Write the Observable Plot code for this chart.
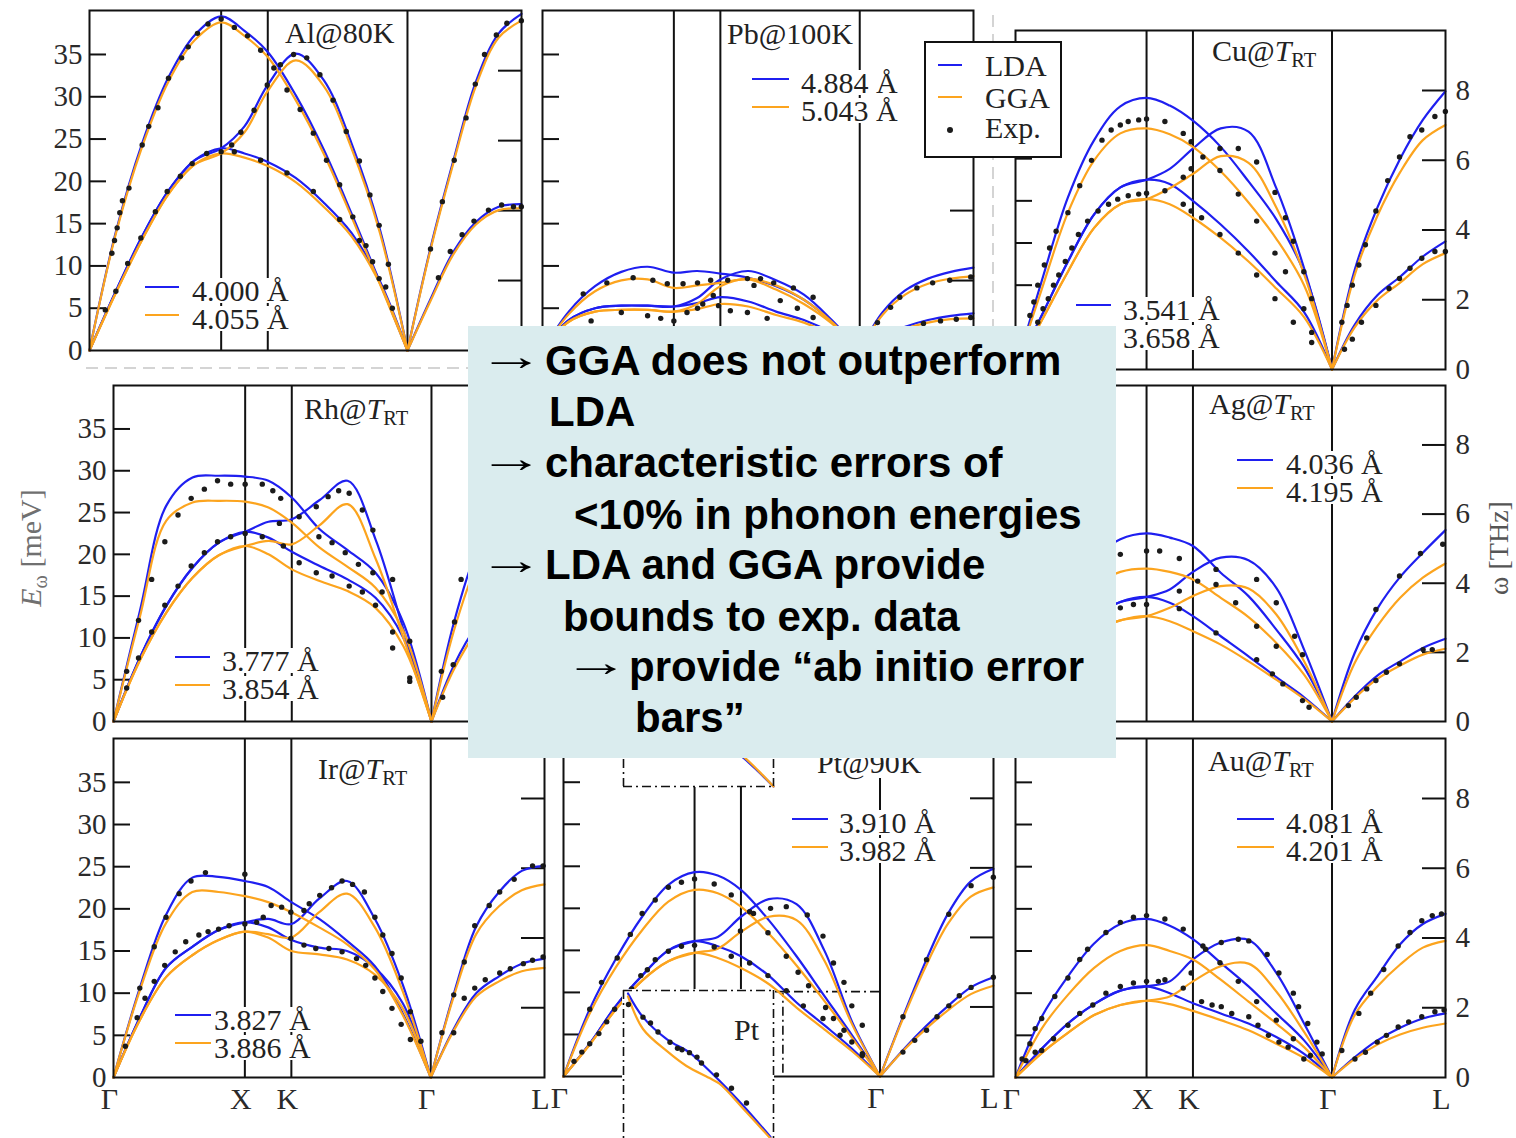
<!DOCTYPE html>
<html><head><meta charset="utf-8">
<script src="https://cdn.jsdelivr.net/npm/d3@7"></script>
<script src="https://cdn.jsdelivr.net/npm/@observablehq/plot@0.6"></script>
<style>
html,body{margin:0;padding:0;background:#fff;overflow:hidden;}
#stage{position:relative;width:1516px;height:1138px;overflow:hidden;background:#fff;}
#stage > div{position:absolute;}
</style></head><body><div id="stage"></div>
<script>
// ---------- shared axes data ----------
const qPath = [0, 0.2, 0.4, 0.6, 0.8, 1, 1.177, 1.354, 1.566, 1.778, 1.99, 2.202, 2.415];
const qL = [2.415, 2.588, 2.761, 2.935, 3.108, 3.281];
const symQ = [0, 1, 1.354, 2.415, 3.281];
const symLabels = ["Γ", "X", "K", "Γ", "L"];
const meVTicks = [0, 5, 10, 15, 20, 25, 30, 35];
const thzTicks = [0, 2, 4, 6, 8];
const MEV_PER_THZ = 4.1357;

// ---------- Al ----------
const alLDA = [
  [0, 14.0, 24.5, 32.3, 37.3, 39.5, 37.8, 35.3, 30.2, 23.8, 16.2, 8.2, 0],
  [0, 7.0, 13.5, 18.9, 22.5, 23.9, 26.5, 31.4, 35.1, 32.0, 24.5, 14.5, 0],
  [0, 7.0, 13.5, 18.9, 22.5, 23.9, 23.3, 22.3, 20.4, 17.5, 13.9, 8.3, 0],
  [0, 12.0, 22.3, 31.8, 37.5, 39.8],
  [0, 6.0, 11.6, 15.2, 17.0, 17.3]];
const alGGA = [
  [0, 13.8, 24.1, 31.8, 36.7, 38.8, 37.2, 34.7, 29.6, 23.3, 15.8, 8.0, 0],
  [0, 6.8, 13.1, 18.5, 22.0, 23.3, 25.8, 30.7, 34.3, 31.3, 23.9, 14.1, 0],
  [0, 6.8, 13.1, 18.5, 22.0, 23.3, 22.8, 21.8, 19.9, 17.0, 13.5, 8.0, 0],
  [0, 11.8, 22.0, 31.3, 37.0, 39.0],
  [0, 5.8, 11.3, 14.9, 16.6, 16.8]];
const alExp = [[.17,11.5],[.19,13],[.21,14.5],[.23,16.3],[.25,17.7],[.3,19.2],[.4,24.3],[.45,26.5],[.52,28.7],[.6,32.2],[.7,34.6],[.75,35.9],[.82,37.5],[.9,38.6],[1,39.2],
 [.12,4.8],[.2,7],[.29,10.3],[.39,13.3],[.5,16.4],[.59,18.8],[.69,20.6],[.78,22.1],[.89,23.3],[1,23.5],
 [1.08,24.3],[1.15,25.8],[1.25,28.4],[1.35,31.4],[1.45,33.8],[1.55,35],[1.65,34.6],[1.75,32.6],[1.85,29.6],[1.95,25.9],[2.05,22.4],[2.13,18.4],[2.2,14.8],[2.27,10.2],
 [1.1,38.2],[1.2,37.2],[1.3,35.5],[1.4,33.4],[1.5,30.8],[1.6,28.5],[1.7,25.7],[1.8,22.5],[1.9,19.6],[2,15.8],[2.1,12.4],[2.2,8.5],[2.3,5],
 [1.1,23.5],[1.3,22.5],[1.5,21],[1.7,18.8],[1.9,15.5],[2.05,13],[2.15,10.5],[2.25,7.5],
 [2.59,12],[2.68,17.6],[2.77,22.5],[2.86,27.5],[2.93,31.5],[3,35],[3.09,37.3],[3.17,38.7],[3.28,39],
 [2.65,8.6],[2.74,11.7],[2.83,13.7],[2.92,15.3],[3.03,16.6],[3.13,17.2],[3.22,17],[3.28,17]];

// ---------- Pb ----------
const pbLDA = [
  [0, 4.6, 7.6, 9.3, 9.9, 9.2, 9.4, 9.1, 8.6, 7.6, 6.0, 3.4, 0],
  [0, 3.6, 5.0, 5.3, 5.3, 5.2, 6.2, 8.4, 9.4, 8.3, 6.6, 3.6, 0],
  [0, 3.6, 5.0, 5.3, 5.3, 5.2, 5.6, 6.3, 5.8, 4.6, 3.6, 2.1, 0],
  [0, 4.5, 7.1, 8.5, 9.3, 9.8],
  [0, 1.6, 2.8, 3.6, 4.1, 4.4]];
const pbGGA = [
  [0, 4.3, 7.0, 8.3, 8.4, 7.4, 7.7, 8.0, 8.4, 7.2, 5.5, 3.2, 0],
  [0, 3.4, 4.6, 4.8, 4.8, 4.6, 5.5, 7.6, 8.5, 7.7, 6.0, 3.4, 0],
  [0, 3.4, 4.6, 4.8, 4.8, 4.6, 4.9, 5.5, 5.2, 4.2, 3.3, 1.9, 0],
  [0, 4.2, 6.6, 7.9, 8.5, 8.8],
  [0, 1.5, 2.6, 3.3, 3.7, 3.8]];
const pbExp = [[.31,6.7],[.49,8],[.69,8.6],[.84,8.3],[.95,7.9],[1.07,7.9],[1.18,8],[1.28,8.3],[1.41,8.3],[1.56,8.5],[1.66,8.5],[1.76,8],[1.91,7.4],[2.06,6.3],
 [1.61,7.7],[1.81,5.9],[1.94,5],[2.06,3.9],
 [.37,3.5],[.6,4.5],[.8,4.1],[.9,3.8],[1,3.5],[1.1,4.5],[1.18,5],[1.22,5.5],[1.3,6.5],[1.34,5.3],[1.43,4.7],[1.56,4.5],[1.71,3.8],
 [2.55,3.3],[2.65,5.1],[2.72,6.3],[2.85,7.4],[2.97,8],[3.1,8.3],[3.26,8.7],
 [2.9,3.2],[3.03,3.5],[3.15,3.7],[3.26,3.9]];

// ---------- Cu ----------
const cuLDA = [
  [0, 10.5, 20.4, 27.2, 31.2, 32.2, 31.3, 29.5, 26.4, 22.3, 17.8, 11.5, 0],
  [0, 6.4, 12.8, 18.4, 21.6, 22.5, 23.8, 26.2, 28.6, 28.2, 21.5, 12.0, 0],
  [0, 6.4, 12.8, 18.4, 21.6, 22.5, 22.0, 20.0, 17.2, 14.0, 10.4, 6.8, 0],
  [0, 11.8, 19.2, 25.0, 29.6, 33.0],
  [0, 5.3, 8.8, 11.0, 13.4, 15.2]];
const cuGGA = [
  [0, 9.5, 18.6, 24.8, 28.0, 28.6, 27.9, 26.4, 23.5, 19.8, 15.5, 10.0, 0],
  [0, 5.8, 11.6, 16.8, 19.6, 20.2, 21.5, 23.2, 25.3, 24.5, 19.2, 11.3, 0],
  [0, 5.8, 11.6, 16.8, 19.6, 20.2, 19.6, 18.0, 15.6, 12.8, 9.6, 6.2, 0],
  [0, 11.2, 18.2, 23.4, 27.2, 29.0],
  [0, 5.0, 8.2, 10.3, 12.5, 13.8]];
const cuExp = [[.08,4.4],[.11,6.4],[.14,8],[.17,10],[.22,12.4],[.26,14.4],[.31,16.4],[.4,18.6],[.49,21.8],[.58,24.8],[.66,27.2],[.73,28.4],[.8,29],[.86,29.4],[.94,29.6],[1,29.7],[1.14,29.4],[1.28,28],[1.34,27],
 [.1,2],[.13,3.6],[.17,5.6],[.21,7.2],[.25,8.4],[.29,10],[.33,11.2],[.38,12.8],[.43,14.4],[.48,16],[.55,17.6],[.63,18.8],[.71,19.6],[.78,20.2],[.86,20.6],[.94,20.8],[1,20.9],
 [1.14,21.2],[1.28,22.8],[1.34,23.8],[1.43,25.2],[1.56,26.2],[1.7,26.2],[1.84,24.6],[1.98,21],[2.06,18],[2.12,15.2],[2.2,11.6],[2.26,8.4],
 [1.56,23.6],[1.7,20.8],[1.84,17.6],[1.98,13.8],[2.06,11.6],[2.2,7.2],[2.26,4.4],
 [1.28,19.6],[1.34,18.8],[1.42,18],[1.56,16],[1.7,13.8],[1.84,11.2],[1.98,8.4],[2.12,5.6],[2.26,3.2],
 [2.49,5.6],[2.53,7.6],[2.57,10],[2.62,12.4],[2.67,14.8],[2.75,18.8],[2.84,22.4],[2.93,25.2],[3.01,27.6],[3.1,28.4],[3.2,30],[3.28,30.6],
 [2.51,2.4],[2.57,3.6],[2.64,5.6],[2.75,7.6],[2.85,9.6],[2.93,10.8],[3.01,12],[3.1,13.2],[3.2,14],[3.28,14]];

// ---------- Rh ----------
const rhLDA = [
  [0, 13.2, 25.8, 29.2, 29.4, 29.3, 28.8, 26.8, 23.0, 20.5, 17.8, 11.8, 0],
  [0, 7.6, 13.8, 18.4, 21.4, 22.7, 23.9, 24.2, 26.5, 28.8, 21.8, 11.0, 0],
  [0, 7.6, 13.8, 18.4, 21.4, 22.7, 22.0, 20.3, 18.6, 17.0, 14.8, 10.0, 0],
  [0, 12.0, 20.5, 25.5, 28.3, 29.0],
  [0, 6.8, 11.5, 14.5, 16.0, 16.5]];
const rhGGA = [
  [0, 12.5, 24.0, 26.2, 26.4, 26.3, 25.6, 23.8, 20.8, 18.5, 16.0, 10.8, 0],
  [0, 7.3, 13.0, 17.2, 19.9, 21.0, 21.6, 21.2, 23.5, 26.0, 19.5, 10.0, 0],
  [0, 7.3, 13.0, 17.2, 19.9, 21.0, 20.0, 18.2, 16.8, 15.6, 13.6, 9.0, 0],
  [0, 11.0, 18.8, 23.5, 26.0, 26.8],
  [0, 6.3, 10.8, 13.5, 15.0, 15.5]];
const rhExp = [[.1,6],[.19,12.1],[.29,17],[.39,21.5],[.49,24.7],[.59,26.7],[.69,27.8],[.79,28.8],[.89,28.4],[1,28.4],[1.13,28.4],[1.21,27.6],[1.27,26.7],
 [.1,4],[.19,7.6],[.29,10.7],[.39,13.9],[.49,16.2],[.59,18.6],[.69,20.2],[.79,21.5],[.89,22.1],[1,22.5],
 [1.41,24.5],[1.56,22.1],[1.66,21.4],[1.76,20.2],[1.86,18.8],[1.97,17.8],[2.04,15.5],[2.12,10.7],[2.25,5.2],
 [1.13,22.1],[1.26,23.7],[1.54,25.7],[1.63,26.9],[1.71,27.6],[1.79,27.3],[1.89,25.3],[1.97,22.9],[2.12,17],[2.25,9.6],
 [1.29,21],[1.41,19],[1.54,17.8],[1.66,17.4],[1.79,16.2],[1.89,15.5],[1.99,13.9],[2.12,8.8],[2.25,4.8],
 [2.49,6],[2.5,2.9],[2.58,6.8],[2.59,11.9],[2.64,17]];

// ---------- Ag ----------
const agLDA = [
  [0, 8.0, 15.0, 19.5, 21.8, 22.5, 22.0, 21.0, 17.8, 15.0, 11.0, 6.5, 0],
  [0, 5.0, 9.5, 12.6, 14.3, 14.9, 15.8, 17.9, 19.6, 19.3, 16.0, 8.6, 0],
  [0, 5.0, 9.5, 12.6, 14.3, 14.9, 14.2, 12.6, 10.2, 7.8, 5.3, 2.9, 0],
  [0, 8.2, 13.5, 17.3, 20.2, 22.9],
  [0, 3.0, 5.5, 7.2, 8.8, 9.9]];
const agGGA = [
  [0, 6.8, 12.5, 16.2, 17.9, 18.3, 17.9, 17.0, 14.8, 12.5, 9.4, 5.6, 0],
  [0, 4.3, 8.2, 10.8, 12.1, 12.6, 13.6, 15.0, 16.2, 15.9, 12.8, 7.2, 0],
  [0, 4.3, 8.2, 10.8, 12.1, 12.6, 12.0, 10.8, 9.2, 7.2, 5.0, 2.7, 0],
  [0, 7.0, 11.4, 14.8, 17.2, 18.9],
  [0, 2.8, 5.1, 6.7, 8.0, 8.7]];
const agExp = [[.8,20],[1,20.4],[1.1,20.4],[1.25,19.5],[1.25,15.6],[1.25,13.5],[.8,13.6],[.9,14],[1,14],[1.39,16.8],[1.53,18.2],[1.53,16.4],[1.53,10.6],[1.68,14.2],[1.84,17],[1.84,11.4],[1.99,14.2],[1.99,9],[1.84,7.4],[2.13,10.2],[2.19,8],[1.96,5.7],[2.04,4.5],[2.19,2.5],[2.24,1.7],
 [2.68,10],[2.75,13.4],[2.93,17.4],[3.09,20.1],[3.26,21.2],
 [2.54,1.9],[2.6,2.9],[2.68,3.9],[2.75,4.9],[2.83,5.9],[2.93,6.9],[3.11,8.6],[3.18,8.6]];

// ---------- Ir ----------
const irLDA = [
  [0, 10.6, 19.3, 23.7, 23.8, 23.3, 22.6, 20.8, 18.8, 16.2, 13.2, 7.6, 0],
  [0, 7.1, 13.0, 15.5, 17.5, 18.4, 18.8, 18.2, 21.2, 23.3, 18.8, 11.0, 0],
  [0, 7.1, 13.0, 15.5, 17.5, 18.4, 17.8, 16.3, 15.4, 15.0, 13.0, 8.8, 0],
  [0, 9.8, 17.9, 22.0, 24.5, 25.1],
  [0, 5.7, 10.0, 12.0, 13.5, 14.1]];
const irGGA = [
  [0, 10.3, 18.3, 22.0, 22.0, 21.5, 20.8, 19.6, 17.8, 15.8, 12.8, 7.4, 0],
  [0, 6.8, 11.9, 14.5, 16.3, 17.3, 17.0, 16.6, 19.6, 21.8, 17.8, 10.2, 0],
  [0, 6.8, 11.9, 14.5, 16.3, 17.3, 16.6, 15.0, 14.6, 14.0, 12.2, 8.2, 0],
  [0, 9.5, 17.0, 20.3, 22.2, 22.9],
  [0, 5.5, 9.6, 11.4, 12.6, 13.0]];
const irExp = [[.09,3.7],[.2,10.6],[.31,15.5],[.4,19],[.5,21.8],[.59,23.3],[.7,24.3],[1,24.1],
 [.18,7.1],[.24,9.4],[.31,11.4],[.39,13.3],[.47,14.9],[.55,16.1],[.65,16.9],[.72,17.3],[.8,17.6],[.88,18],[1,18.2],[1.09,18.4],[1.14,19],
 [1.2,20.4],[1.28,20.2],[1.35,19.6],[1.45,19.8],[1.49,20.6],[1.57,21.6],[1.66,22.5],[1.74,23.3],[1.82,22.9],[1.91,22],[1.99,19],[2.05,16.9],[2.12,14.7],[2.19,11.8],[2.26,7.8],[2.34,4.3],
 [1.35,16.5],[1.45,15.7],[1.54,15.3],[1.64,15.3],[1.74,14.9],[1.85,14.1],[1.92,13.3],[1.99,11.8],[2.05,10.2],[2.12,8.2],[2.19,6.3],[2.26,4.5],
 [2.5,5.3],[2.59,9.8],[2.67,13.7],[2.75,18],[2.86,20.4],[2.94,22],[3.05,23.5],[3.19,25.1],[3.27,25.1],
 [2.59,5.3],[2.67,9.4],[2.75,10.6],[2.83,11.6],[2.94,12.4],[3.02,12.9],[3.12,13.5],[3.19,13.9],[3.27,14.3]];

// ---------- Pt ----------
const ptLDA = [
  [0, 8.0, 14.0, 19.0, 22.8, 24.3, 23.9, 22.2, 18.6, 14.3, 9.6, 4.9, 0],
  [0, 3.9, 8.4, 12.0, 15.0, 16.1, 16.6, 19.0, 21.1, 20.5, 15.0, 6.5, 0],
  [0, 3.9, 8.4, 12.0, 15.0, 16.1, 15.5, 14.3, 12.0, 8.8, 6.1, 3.3, 0],
  [0, 7.0, 13.6, 19.4, 23.2, 24.7],
  [0, 3.1, 5.9, 8.4, 10.6, 11.8]];
const ptGGA = [
  [0, 7.5, 13.0, 17.4, 20.8, 22.2, 21.8, 20.2, 17.0, 13.2, 9.0, 4.6, 0],
  [0, 3.8, 8.0, 11.4, 13.7, 14.7, 15.2, 17.2, 19.0, 18.6, 13.8, 6.2, 0],
  [0, 3.8, 8.0, 11.4, 13.7, 14.7, 14.1, 12.9, 11.0, 8.2, 5.6, 3.0, 0],
  [0, 6.8, 13.0, 18.2, 21.4, 22.5],
  [0, 3.0, 5.6, 7.9, 9.8, 10.8]];
const ptExp = [[.2,8],[.29,11.2],[.41,14.1],[.51,16.9],[.6,19.4],[.7,21],[.8,22.5],[.9,23.1],[1,23.5],[1.15,22.9],[1.28,21.6],
 [.08,1.8],[.14,2.9],[.2,3.9],[.27,5.1],[.33,6.5],[.39,8],[.46,9.2],[.52,10.4],[.59,12],[.64,12.7],[.7,13.9],[.8,14.9],[.9,15.5],[1,15.6],[1.15,15.4],[1.28,14.3],
 [1.42,19.6],[1.56,17.1],[1.7,14.3],[1.79,12.4],[1.87,10.8],[2,8.2],[2.06,6.9],[2.14,5.5],[2.2,4.1],[2.28,2.5],
 [1.35,17.3],[1.45,19.4],[1.58,20],[1.7,20.2],[1.86,19.2],[1.98,16.7],[2.06,13.5],[2.14,11.2],[2.2,8.4],[2.28,6.1],
 [1.42,13.5],[1.56,12],[1.7,10.2],[1.83,8.4],[1.98,6.9],[2.11,4.9],[2.28,2.7],
 [2.59,7.1],[2.77,13.9],[2.94,19.3],[3.11,22.7],[3.28,23.7],
 [2.59,2.9],[2.68,4.3],[2.77,5.5],[2.85,7.1],[2.94,8.4],[3.02,9.6],[3.11,10.6],[3.28,11.8]];
// Pt zoom-window outline (q, meV) and inset curves (inset units)
const ptZoomQ = [0.458, 2.415];
const ptZoomE = [10.1];
const ptZoomTickQ = [1.674];
const ptZoomTickE = [0.4, 9.9];
const ptInsetLdaX = [0.3, 1.3, 2.9, 4.4, 5.6, 6.4, 8.0, 9.8];
const ptInsetLdaY = [9.8, 8.2, 6.7, 5.8, 4.7, 3.9, 2.2, 0.1];
const ptInsetGgaX = [0.3, 1.3, 2.9, 4.2, 5.7, 6.4, 8.0, 9.8];
const ptInsetGgaY = [9.6, 7.4, 5.9, 4.9, 4.1, 3.7, 2.0, 0.0];
const ptInsetExp = [[.33,9.05],[1.3,8.2],[1.8,7.8],[2.3,7.2],[3.1,6.5],[3.6,6.1],[3.9,6.0],[4.4,5.8],[4.9,5.5],[5.2,5.1],[6.2,4.3],[7.2,3.4],[8.2,2.4]];
const ptUpperX = [7.4, 8.0, 9.0, 10];
const ptUpperLda = [7.6, 6.2, 3.2, 0];
const ptUpperGga = [7.9, 6.5, 3.4, 0];

// ---------- Au ----------
const auLDA = [
  [0, 7.2, 12.0, 15.9, 18.2, 18.8, 18.0, 16.4, 13.6, 10.8, 7.6, 4.4, 0],
  [0, 3.4, 6.4, 8.7, 10.3, 10.8, 11.4, 14.0, 16.0, 16.3, 12.4, 6.4, 0],
  [0, 3.4, 6.4, 8.7, 10.3, 10.8, 10.0, 8.8, 7.6, 6.4, 4.8, 2.8, 0],
  [0, 8.0, 12.0, 15.8, 18.2, 19.4],
  [0, 2.4, 4.4, 5.9, 7.0, 7.6]];
const auGGA = [
  [0, 5.8, 9.8, 13.0, 15.0, 15.7, 15.0, 14.0, 11.6, 9.0, 6.4, 3.6, 0],
  [0, 2.9, 5.3, 7.4, 8.6, 9.1, 9.6, 11.4, 13.2, 13.5, 10.2, 5.4, 0],
  [0, 2.9, 5.3, 7.4, 8.6, 9.1, 8.7, 7.9, 6.8, 5.6, 4.0, 2.3, 0],
  [0, 7.4, 10.8, 13.4, 15.4, 16.2],
  [0, 2.2, 3.9, 5.1, 5.9, 6.4]];
const auExp = [[.08,2],[.11,4],[.15,5.8],[.2,7],[.3,9.6],[.4,11.8],[.49,14],[.55,15.2],[.69,17.2],[.8,18.4],[.9,19],[1,19.2],[1.14,18.8],[1.28,17.6],
 [.05,2.2],[.15,3],[.2,3.2],[.29,4.6],[.4,6.2],[.49,7.6],[.59,8.6],[.69,10],[.8,10.8],[.9,11.2],[1,11.4],[1.09,11.4],[1.14,11.6],
 [1.43,15.6],[1.56,13.6],[1.7,11.4],[1.84,9],[1.99,6.8],[2.12,4.6],[2.25,2.6],
 [1.28,10.6],[1.34,12.4],[1.45,15.2],[1.57,16],[1.7,16.4],[1.78,16.2],[1.92,14.6],[2.01,12.4],[2.12,10],[2.16,8.4],[2.23,6.4],[2.3,4.2],[2.34,2.8],
 [1.42,9],[1.5,8.6],[1.57,8.4],[1.65,7.6],[1.78,7.2],[1.85,6.2],[1.93,5],[2.01,4.2],[2.08,3.6],[2.2,2.2],
 [2.49,3.2],[2.62,7.6],[2.71,10],[2.81,12.8],[2.92,15.6],[3.01,17.2],[3.1,18.6],[3.18,19.2],[3.25,19.4],
 [2.59,2.2],[2.67,3],[2.76,4.2],[2.83,5],[2.92,6],[3,6.6],[3.1,7.2],[3.2,7.8],[3.27,8]];

// ---------- texts ----------
const latticeLabels = {
  al: ["4.000 Å", "4.055 Å"], pb: ["4.884 Å", "5.043 Å"], cu: ["3.541 Å", "3.658 Å"],
  rh: ["3.777 Å", "3.854 Å"], ag: ["4.036 Å", "4.195 Å"], ir: ["3.827 Å", "3.886 Å"],
  pt: ["3.910 Å", "3.982 Å"], au: ["4.081 Å", "4.201 Å"]};
const RT = '@<i>T</i><span style="font-size:0.68em;position:relative;top:0.32em">RT</span>';
const panelTitles = {al: "Al@80K", pb: "Pb@100K", cu: "Cu" + RT, rh: "Rh" + RT, ag: "Ag" + RT, ir: "Ir" + RT, pt: "Pt@90K", au: "Au" + RT};
const noteLines = ["GGA does not outperform", "LDA", "characteristic errors of", "<10% in phonon energies",
  "LDA and GGA provide", "bounds to exp. data", "provide “ab initio error", "bars”"];

// ---------- layout (pixels) ----------
const BLUE = "#1f1ff0", ORANGE = "#fca41e", INK = "#111";
const SERIF = "'Liberation Serif','Times New Roman',serif";
const SANS = "'Liberation Sans',Arial,sans-serif";
const frames = {
  al: {x: 89, y: 10, w: 432, h: 340, left: true},
  pb: {x: 542, y: 10, w: 431, h: 340},
  cu: {x: 1015, y: 30, w: 430, h: 339, right: true},
  rh: {x: 113, y: 385, w: 432, h: 336, left: true},
  ag: {x: 1015, y: 385, w: 430, h: 336, right: true},
  ir: {x: 113, y: 738, w: 431, h: 339, left: true, bottom: true},
  pt: {x: 563, y: 738, w: 430, h: 338, bottom: true},
  au: {x: 1015, y: 738, w: 430, h: 339, right: true, bottom: true}};
const legendAt = {al: [145, 179, 287, 191, 301], pb: [752, 789, 79, 800, 93], cu: [1076, 1111, 305, 1122, 320],
  rh: [175, 210, 657, 221, 671], ag: [1237, 1273, 460, 1285, 474], ir: [175, 211, 1015, 213, 1030],
  pt: [792, 828, 819, 838, 833], au: [1237, 1274, 819, 1285, 833]};
const titleAt = {al: [283, 43], pb: [725, 44], cu: [1210, 61], rh: [302, 419], ag: [1207, 414], ir: [316, 779], pt: [815, 773], au: [1206, 771]};

const stage = document.getElementById("stage");
function place(node, x, y) {
  const d = document.createElement("div");
  d.style.left = x + "px"; d.style.top = y + "px";
  d.appendChild(node); stage.appendChild(d); return d;
}
// text positioned by its baseline; lh = line-box height in px
function text(html, x, baseline, size, opts = {}) {
  const d = document.createElement("div");
  d.innerHTML = html;
  const fam = opts.family || SERIF;
  const asc = fam === SANS ? 0.905 : 0.891, desc = fam === SANS ? 0.212 : 0.216;
  const lh = opts.lh || size;
  const off = (lh - (asc + desc) * size) / 2 + asc * size;
  Object.assign(d.style, {left: x + "px", top: (baseline - off) + "px", fontSize: size + "px", lineHeight: lh + "px",
    height: lh + "px", fontFamily: fam, whiteSpace: "nowrap", color: opts.color || "#222", fontWeight: opts.weight || "normal",
    background: opts.bg || "transparent", padding: opts.pad || "0"}, opts.style || {});
  stage.appendChild(d); return d;
}
function rotText(html, cx, cy, size, color) {
  const d = document.createElement("div");
  d.innerHTML = html;
  Object.assign(d.style, {left: (cx - 80) + "px", top: (cy - size / 2) + "px", width: "160px", height: size + "px",
    lineHeight: size + "px", textAlign: "center", fontSize: size + "px", fontFamily: SERIF, color,
    whiteSpace: "nowrap", transform: "rotate(-90deg)"});
  stage.appendChild(d);
}
function hline(x1, x2, y, color, w = 2) {
  const d = document.createElement("div");
  Object.assign(d.style, {left: x1 + "px", top: (y - w / 2) + "px", width: (x2 - x1) + "px", height: w + "px", background: color});
  stage.appendChild(d);
}

const M = {l: 70, r: 70, t: 6, b: 50};
function panel(key, lda, gga, exp, extra = []) {
  const f = frames[key];
  const rows = [];
  for (const [fn, set] of [["LDA", lda], ["GGA", gga]]) {
    set.forEach((vals, i) => {
      const qs = vals.length === qPath.length ? qPath : qL;
      vals.forEach((E, j) => rows.push({fn, id: fn + i, q: qs[j], E}));
    });
  }
  const dots = exp.map(([q, E]) => ({q, E}));
  const marks = [
    Plot.ruleX(symQ.slice(1, 4), {stroke: INK, strokeWidth: 2}),
    Plot.ruleY(meVTicks.slice(1), {stroke: INK, strokeWidth: 2, insetRight: f.w - 17}),
    Plot.ruleY(thzTicks.slice(1).map(t => t * MEV_PER_THZ), {stroke: INK, strokeWidth: 2, insetLeft: f.w - 23}),
    ...extra,
    Plot.line(rows.filter(r => r.fn === "LDA"), {x: "q", y: "E", z: "id", stroke: BLUE, strokeWidth: 2.2, curve: "catmull-rom"}),
    Plot.line(rows.filter(r => r.fn === "GGA"), {x: "q", y: "E", z: "id", stroke: ORANGE, strokeWidth: 2.2, curve: "catmull-rom"}),
    Plot.dot(dots, {x: "q", y: "E", r: 2.7, fill: "#1b1b1b"}),
    Plot.frame({stroke: INK, strokeWidth: 2})
  ];
  if (f.left) marks.push(Plot.axisY(meVTicks, {anchor: "left", label: null, tickSize: 0, tickPadding: 7, fontSize: 29}));
  if (f.right) marks.push(Plot.axisY(thzTicks.map(t => t * MEV_PER_THZ), {anchor: "right", label: null, tickSize: 0, tickPadding: 10, fontSize: 29,
    tickFormat: d => String(Math.round(d / MEV_PER_THZ))}));
  if (f.bottom) marks.push(Plot.axisX(symQ, {anchor: "bottom", label: null, tickSize: 0, tickPadding: 10, fontSize: 30, dx: -4,
    tickFormat: d => symLabels[symQ.indexOf(d)]}));
  const svg = Plot.plot({
    width: f.w + M.l + M.r, height: f.h + M.t + M.b,
    marginLeft: M.l, marginRight: M.r, marginTop: M.t, marginBottom: M.b,
    x: {domain: [0, 3.281], axis: null}, y: {domain: [0, 40.2], axis: null},
    style: {fontFamily: SERIF, background: "transparent", overflow: "visible", maxWidth: "none", color: "#2a2a2a"},
    marks
  });
  place(svg, f.x - M.l, f.y - M.t);
}

const dashDot = "9,4,2,4";
panel("al", alLDA, alGGA, alExp);
panel("pb", pbLDA, pbGGA, pbExp);
panel("cu", cuLDA, cuGGA, cuExp);
panel("rh", rhLDA, rhGGA, rhExp);
panel("ag", agLDA, agGGA, agExp);
panel("ir", irLDA, irGGA, irExp);
panel("pt", ptLDA, ptGGA, ptExp, [
  Plot.ruleY([{E: ptZoomE[0], q1: ptZoomQ[0], q2: ptZoomQ[1]}], {y: "E", x1: "q1", x2: "q2", stroke: INK, strokeWidth: 1.6, strokeDasharray: dashDot}),
  Plot.ruleX([{q: ptZoomTickQ[0], e1: ptZoomTickE[0], e2: ptZoomTickE[1]}], {x: "q", y1: "e1", y2: "e2", stroke: INK, strokeWidth: 1.6, strokeDasharray: dashDot})
]);
panel("au", auLDA, auGGA, auExp);

// Pt inset panels (white windows with dash-dot outline)
function insetPlot(w, h, yDomain, ldaX, ldaY, ggaX, ggaY, exp, edges) {
  const lda = ldaX.map((x, i) => ({x, y: ldaY[i]}));
  const gga = ggaX.map((x, i) => ({x, y: ggaY[i]}));
  const marks = [
    Plot.line(lda, {x: "x", y: "y", stroke: BLUE, strokeWidth: 2.2, curve: "catmull-rom"}),
    Plot.line(gga, {x: "x", y: "y", stroke: ORANGE, strokeWidth: 2.2, curve: "catmull-rom"}),
    Plot.dot(exp.map(([x, y]) => ({x, y})), {x: "x", y: "y", r: 2.7, fill: "#1b1b1b"}),
    Plot.ruleX([0, 10], {stroke: INK, strokeWidth: 1.6, strokeDasharray: dashDot})
  ];
  if (edges.includes("bottom")) marks.push(Plot.ruleY([yDomain[0]], {stroke: INK, strokeWidth: 1.6, strokeDasharray: dashDot}));
  if (edges.includes("top")) marks.push(Plot.ruleY([yDomain[1]], {stroke: INK, strokeWidth: 1.6, strokeDasharray: dashDot}));
  return Plot.plot({width: w, height: h, margin: 1, x: {domain: [0, 10], axis: null}, y: {domain: yDomain, axis: null},
    style: {background: "#fff", overflow: "visible", maxWidth: "none"}, marks});
}
place(insetPlot(152, 150, [0, 10], ptInsetLdaX, ptInsetLdaY, ptInsetGgaX, ptInsetGgaY, ptInsetExp, ["top"]), 622, 989);
place(insetPlot(152, 48, [0, 10], ptUpperX, ptUpperLda, ptUpperX, ptUpperGga, [], ["bottom"]), 622, 739);
text("Pt", 734, 1040, 30);

// separators (light dashed)
(function () {
  const ns = "http://www.w3.org/2000/svg";
  const s = document.createElementNS(ns, "svg");
  s.setAttribute("width", 1516); s.setAttribute("height", 1138);
  s.style.pointerEvents = "none";
  s.innerHTML = '<line x1="86" y1="368" x2="470" y2="368" stroke="#d4d4d4" stroke-width="2" stroke-dasharray="12,7"/>' +
    '<line x1="993" y1="15" x2="993" y2="330" stroke="#d4d4d4" stroke-width="2" stroke-dasharray="12,7"/>';
  const d = document.createElement("div"); d.style.left = "0px"; d.style.top = "0px"; d.appendChild(s);
  stage.insertBefore(d, stage.firstChild);
})();

// titles and lattice-constant legends
for (const k of Object.keys(frames)) {
  const [tx, tb] = titleAt[k];
  text(panelTitles[k], tx, tb, 30, {bg: "#fff", pad: "0 2px"});
  const [x1, x2, ly, lx, lb] = legendAt[k];
  const [a, b] = latticeLabels[k];
  text(a, lx, lb, 30, {bg: "#fff", pad: "0 1px", lh: 25});
  text(b, lx, lb + 28, 30, {bg: "#fff", pad: "0 1px", lh: 25});
  hline(x1, x2, ly, BLUE, 2.4);
  hline(x1, x2, ly + 28, ORANGE, 2.4);
}

// axis titles
rotText('<i>E</i><span style="font-size:0.68em;position:relative;top:0.3em">ω</span> [meV]', 31, 548, 30, "#707070");
rotText("ω [THz]", 1499, 548, 28, "#555");

// global method legend
(function () {
  const box = document.createElement("div");
  Object.assign(box.style, {left: "924px", top: "41px", width: "134px", height: "113px", border: "2px solid #111", background: "#fff"});
  stage.appendChild(box);
  hline(938, 962, 65, BLUE, 2.4);
  hline(938, 962, 97, ORANGE, 2.4);
  const dot = document.createElement("div");
  Object.assign(dot.style, {left: "947px", top: "127px", width: "6px", height: "6px", borderRadius: "3px", background: "#1b1b1b"});
  stage.appendChild(dot);
  text("LDA", 985, 76, 30, {lh: 28});
  text("GGA", 985, 108, 30, {lh: 28});
  text("Exp.", 985, 138, 30, {lh: 28});
})();

// summary note box
(function () {
  const box = document.createElement("div");
  Object.assign(box.style, {left: "468px", top: "326px", width: "648px", height: "432px", background: "#daecee"});
  stage.appendChild(box);
  const base = [376, 427, 478, 530, 580, 632, 682, 733];
  const xs = [545, 549, 545, 574, 545, 563, 629, 635];
  const arrows = {0: 478, 2: 478, 4: 478, 6: 563};
  noteLines.forEach((t, i) => {
    text(t, xs[i], base[i], 42, {family: SANS, weight: "bold", color: "#000", lh: 48});
    if (arrows[i] !== undefined) text("→", arrows[i], base[i] - 6, 40, {color: "#000", lh: 30,
      style: {transform: "scaleX(1.65)", transformOrigin: "0 50%"}});
  });
})();
</script></body></html>
